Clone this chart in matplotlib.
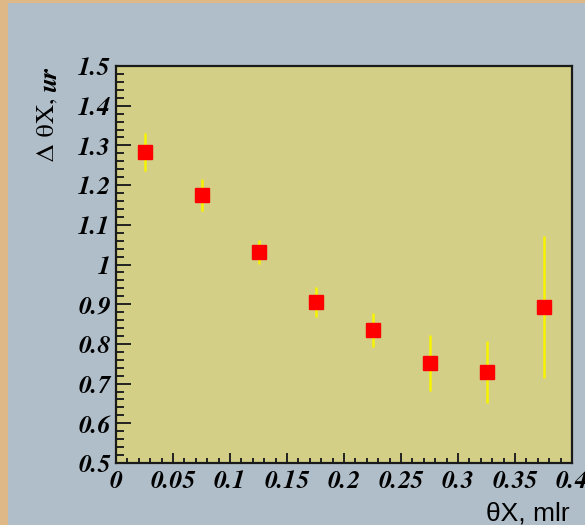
import matplotlib
matplotlib.use("Agg")
import matplotlib.pyplot as plt
from matplotlib.patches import Rectangle
from matplotlib.ticker import FixedLocator, MultipleLocator
from matplotlib.transforms import ScaledTranslation

# data
theta_x = [0.025, 0.075, 0.125, 0.175, 0.225, 0.275, 0.325, 0.375]
delta_theta = [1.283, 1.175, 1.031, 0.906, 0.835, 0.752, 0.729, 0.893]
delta_err = [0.047, 0.040, 0.030, 0.038, 0.043, 0.070, 0.078, 0.180]

x_ticks = [0, 0.05, 0.1, 0.15, 0.2, 0.25, 0.3, 0.35, 0.4]
x_tick_labels = ["0", "0.05", "0.1", "0.15", "0.2", "0.25", "0.3", "0.35", "0.4"]
y_ticks = [0.5, 0.6, 0.7, 0.8, 0.9, 1.0, 1.1, 1.2, 1.3, 1.4, 1.5]
y_tick_labels = ["0.5", "0.6", "0.7", "0.8", "0.9", "1", "1.1", "1.2", "1.3", "1.4", "1.5"]

W, H = 585, 525
fig = plt.figure(figsize=(W / 100, H / 100), dpi=100)
fig.patch.set_facecolor("#deb887")
fig.add_artist(Rectangle((8 / W, 0), 1, 1 - 3 / H, transform=fig.transFigure,
                         facecolor="#b0bec9", edgecolor="none", zorder=0))

ax = fig.add_axes([116 / W, 1 - 463 / H, (572 - 116) / W, (463 - 66) / H])
ax.set_facecolor("#d3cf87")

ax.errorbar(theta_x, delta_theta, yerr=delta_err, fmt="none",
            ecolor="#f8f400", elinewidth=1.8, capsize=0, zorder=2)
ax.plot(theta_x, delta_theta, "s", color="#ff0000", mec="#ff0000", ms=10, zorder=3)

ax.set_xlim(0, 0.4)
ax.set_ylim(0.5, 1.5)
ax.xaxis.set_major_locator(FixedLocator(x_ticks))
ax.yaxis.set_major_locator(FixedLocator(y_ticks))
ax.set_xticklabels(x_tick_labels)
ax.set_yticklabels(y_tick_labels)
ax.xaxis.set_minor_locator(MultipleLocator(0.01))
ax.yaxis.set_minor_locator(MultipleLocator(0.02))

tick_font = dict(family="FreeSerif", weight="bold", style="italic", size=18.5)
for lab in ax.get_xticklabels() + ax.get_yticklabels():
    lab.set(**tick_font)
# ROOT nudges the corner labels apart
xl0 = ax.get_xticklabels()[0]
xl0.set_transform(xl0.get_transform() + ScaledTranslation(-2 / 100, 0, fig.dpi_scale_trans))
yl0 = ax.get_yticklabels()[0]
yl0.set_transform(yl0.get_transform() + ScaledTranslation(-3 / 100, -5 / 100, fig.dpi_scale_trans))

ax.tick_params(axis="y", which="major", direction="in", length=11, width=1.4,
               color="#222222", pad=4)
ax.tick_params(axis="y", which="minor", direction="in", length=5.8, width=1.4,
               color="#222222")
ax.tick_params(axis="x", which="major", direction="in", length=7.2, width=1.4,
               color="#222222", pad=5)
ax.tick_params(axis="x", which="minor", direction="in", length=3.6, width=1.4,
               color="#222222")
for sp in ax.spines.values():
    sp.set_linewidth(1.6)
    sp.set_color("#1a1a1a")

# y title: "Δ θX," regular, "ur" bold italic, aligned to the top of the axis
fig.canvas.draw()
r = fig.canvas.get_renderer()
t1 = fig.text(49 / W, 1 - 68 / H, "ur", rotation=90, ha="center", va="top",
              family="FreeSerif", weight="bold", style="italic", size=19)
ext = t1.get_window_extent(r)
fig.text(47 / W, (ext.y0 - 5) / H, "Δ θX,", rotation=90, ha="center", va="top",
         family="FreeSerif", size=19)

fig.text(570 / W, 1 - 513 / H, "θX, mlr", ha="right", va="center",
         family="Liberation Sans", size=19)

fig.savefig("out.png", dpi=100, facecolor=fig.get_facecolor())
